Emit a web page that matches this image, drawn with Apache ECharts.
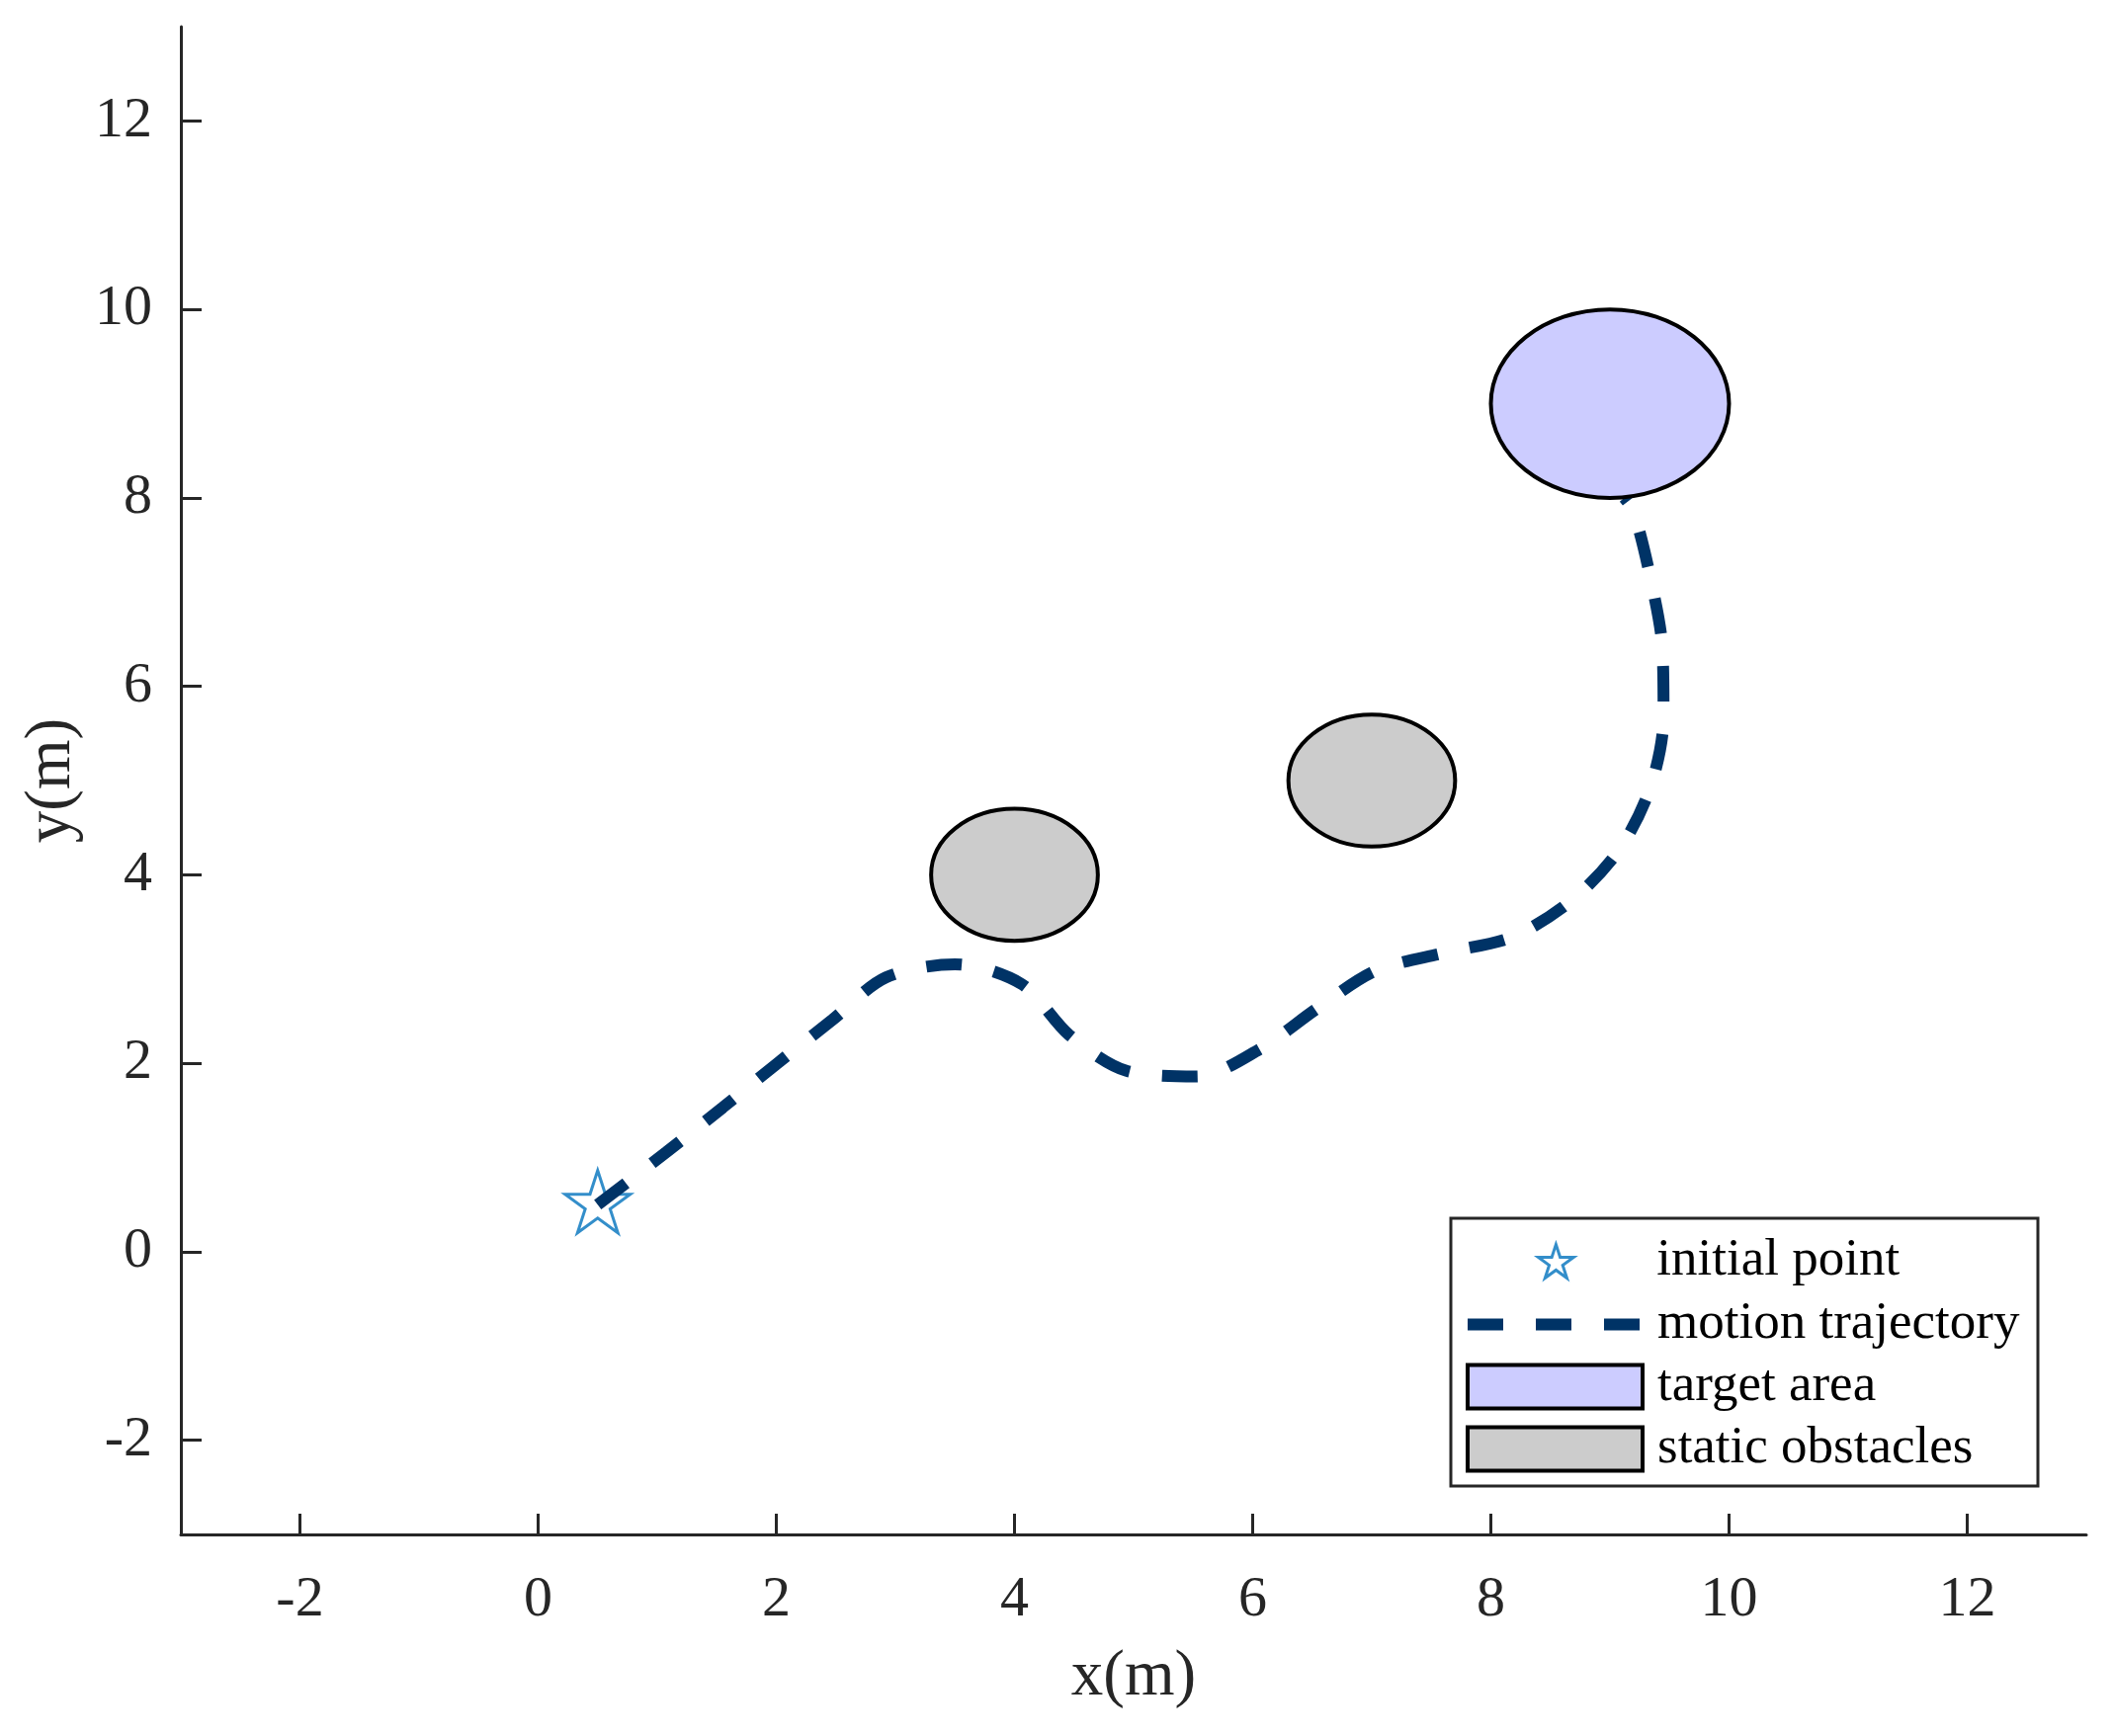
<!DOCTYPE html>
<html lang="en">
<head>
<meta charset="UTF-8">
<title>Motion trajectory</title>
<style>
  html, body { margin: 0; padding: 0; background: #fff; }
  #chart-container { width: 2138px; height: 1757px; }
</style>
</head>
<body>
<div id="chart-container"></div>
<script src="https://cdn.jsdelivr.net/npm/echarts@6/dist/echarts.min.js"></script>
<script>
  // ---- data ----
  const xTicks = [-2, 0, 2, 4, 6, 8, 10, 12];
  const yTicks = [-2, 0, 2, 4, 6, 8, 10, 12];

  const startPoint = [0.5, 0.5];

  const trajX = [0.5, 1.08, 1.55, 2.0, 2.47, 2.92, 3.5, 4.06, 4.46, 4.94, 5.53,
                 6.06, 6.54, 7.03, 7.6, 8.18, 8.68, 9.08, 9.34, 9.45, 9.44, 9.34, 9.2, 9.12];
  const trajY = [0.5, 1.06, 1.53, 1.99, 2.46, 2.91, 3.05, 2.84, 2.3, 1.92, 1.86,
                 2.15, 2.58, 2.98, 3.17, 3.34, 3.73, 4.27, 4.93, 5.67, 6.41, 7.15, 7.85, 8.0];

  // [x, y, radius]
  const targetArea = [[9, 9, 1]];
  const obstacles = [[4, 4, 0.7], [7, 5, 0.7]];

  const seriesNames = ['initial point', 'motion trajectory', 'target area', 'static obstacles'];

  // ---- styling ----
  const FONT = 'Liberation Serif, Times New Roman, serif';
  const AXIS_COLOR = '#262626';
  const STAR_COLOR = '#0072BD';
  const LINE_COLOR = '#003366';
  const TARGET_FILL = '#CCCCFF';
  const OBST_FILL = '#CCCCCC';
  const LINE_W = 12;
  const EDGE_W = 4;
  const DASH = [36, 33];
  const STAR_PATH = 'path://M100,0 L122.45,69.1 L195.1,69.1 L136.3,111.8 L158.8,180.9 L100,138.2 L41.2,180.9 L63.7,111.8 L4.9,69.1 L77.55,69.1 Z';

  const trajData = trajX.map((x, i) => [x, trajY[i]]);

  function renderEllipse(params, api) {
    const c = api.coord([api.value(0), api.value(1)]);
    const s = api.size([api.value(2), api.value(2)]);
    return {
      type: 'ellipse',
      shape: { cx: c[0], cy: c[1], rx: s[0], ry: s[1] },
      style: api.style()
    };
  }

  var dom = document.getElementById('chart-container');
  var myChart = echarts.init(dom, null, { renderer: 'canvas' });

  function axisCommon(ticks, name) {
    return {
      type: 'value',
      min: -3,
      max: 13,
      splitNumber: 8,
      name: name,
      nameLocation: 'middle',
      nameTextStyle: { fontFamily: FONT, fontSize: 65, color: AXIS_COLOR },
      axisLine: { show: true, onZero: false, lineStyle: { color: AXIS_COLOR, width: 3 } },
      axisTick: { show: true, inside: true, length: 21, customValues: ticks,
                  lineStyle: { color: AXIS_COLOR, width: 3 } },
      axisLabel: { customValues: ticks, fontFamily: FONT, fontSize: 58, color: AXIS_COLOR },
      splitLine: { show: false }
    };
  }

  var xAxis = axisCommon(xTicks, 'x(m)');
  xAxis.nameGap = 112;
  xAxis.axisLabel.margin = 38;
  var yAxis = axisCommon(yTicks, 'y(m)');
  yAxis.nameGap = 97;
  yAxis.nameRotate = 90;
  yAxis.axisLabel.margin = 29;

  var legendText = { fontFamily: FONT, fontSize: 53, color: '#000' };

  var option = {
    animation: false,
    backgroundColor: '#fff',
    grid: { left: 183, right: 27, top: 27, bottom: 204 },
    xAxis: xAxis,
    yAxis: yAxis,
    graphic: [{
      type: 'rect',
      z: 3,
      shape: { x: 1468, y: 1233, width: 594, height: 271 },
      style: { fill: '#fff', stroke: AXIS_COLOR, lineWidth: 3 }
    }],
    legend: [{
      orient: 'vertical',
      left: 1555,
      top: 1250,
      padding: 0,
      itemWidth: 36,
      itemHeight: 34,
      selectedMode: false,
      textStyle: Object.assign({ padding: [0, 0, 0, 79] }, legendText),
      data: [{ name: seriesNames[0], icon: STAR_PATH,
               itemStyle: { color: 'rgba(0,0,0,0)', borderColor: STAR_COLOR, borderWidth: 3 } }]
    }, {
      orient: 'vertical',
      left: 1479,
      top: 1314,
      padding: 0,
      itemWidth: 177,
      itemHeight: 44,
      itemGap: 10,
      selectedMode: false,
      textStyle: Object.assign({ padding: [0, 0, 0, 10] }, legendText),
      data: [
        { name: seriesNames[1],
          itemStyle: { color: 'rgba(0,0,0,0)', borderWidth: 0 },
          lineStyle: { color: LINE_COLOR, width: LINE_W, type: DASH, cap: 'butt' } },
        { name: seriesNames[2], icon: 'rect',
          itemStyle: { color: TARGET_FILL, borderColor: '#000', borderWidth: EDGE_W } },
        { name: seriesNames[3], icon: 'rect',
          itemStyle: { color: OBST_FILL, borderColor: '#000', borderWidth: EDGE_W } }
      ]
    }],
    series: [
      {
        name: seriesNames[0],
        type: 'scatter',
        z: 2,
        symbol: STAR_PATH,
        symbolSize: [66, 63],
        symbolOffset: [0, -3],
        itemStyle: { color: 'rgba(0,0,0,0)', borderColor: STAR_COLOR, borderWidth: 3 },
        emphasis: { disabled: true },
        data: [startPoint]
      },
      {
        name: seriesNames[1],
        type: 'line',
        z: 3,
        smooth: 0.3,
        symbol: 'none',
        lineStyle: { color: LINE_COLOR, width: LINE_W, type: DASH, cap: 'butt' },
        itemStyle: { color: LINE_COLOR },
        emphasis: { disabled: true },
        data: trajData
      },
      {
        name: seriesNames[2],
        type: 'custom',
        z: 4,
        renderItem: renderEllipse,
        itemStyle: { color: TARGET_FILL, borderColor: '#000', borderWidth: EDGE_W },
        data: targetArea
      },
      {
        name: seriesNames[3],
        type: 'custom',
        z: 4,
        renderItem: renderEllipse,
        itemStyle: { color: OBST_FILL, borderColor: '#000', borderWidth: EDGE_W },
        data: obstacles
      }
    ]
  };

  myChart.setOption(option);
  window.addEventListener('resize', myChart.resize);
</script>
</body>
</html>
